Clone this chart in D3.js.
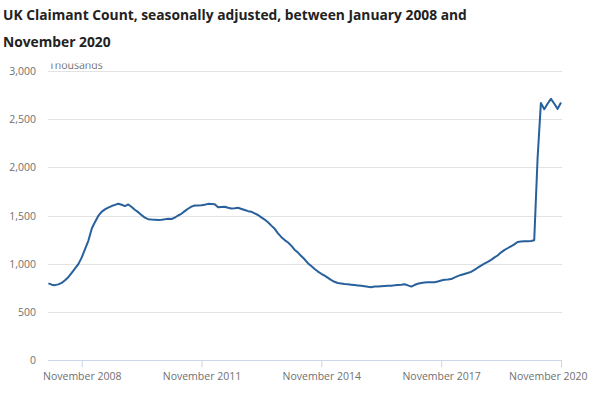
<!DOCTYPE html>
<html>
<head>
<meta charset="utf-8">
<script src="https://cdn.jsdelivr.net/npm/d3@7"></script>
<style>
  html, body { margin: 0; padding: 0; background: #fff; }
  svg { display: block; font-family: "Open Sans", sans-serif; }
</style>
</head>
<body>
<div id="chart"></div>
<script>
// claimant count, thousands, monthly from January 2008 to November 2020
const firstMonth = '2008-01';
const claimants = [
  795, 782, 777, 785, 800, 828, 860, 905, 950, 995, 1065, 1150,   // 2008
  1240, 1365, 1430, 1495, 1538, 1563, 1582, 1598, 1610, 1622, 1612, 1598, // 2009
  1615, 1588, 1560, 1535, 1505, 1478, 1462, 1458, 1457, 1454, 1456, 1460, // 2010
  1466, 1464, 1478, 1500, 1518, 1545, 1570, 1592, 1604, 1605, 1607, 1612, // 2011
  1621, 1620, 1617, 1585, 1588, 1590, 1580, 1573, 1575, 1580, 1568, 1557, // 2012
  1545, 1538, 1522, 1505, 1480, 1458, 1430, 1395, 1362, 1315, 1275, 1245, // 2013
  1220, 1185, 1145, 1115, 1080, 1045, 1005, 975, 945, 918, 895, 875,      // 2014
  852, 830, 812, 800, 795, 790, 786, 782, 778, 774, 770, 765,             // 2015
  760, 756, 762, 762, 766, 768, 770, 772, 775, 779, 782, 786,             // 2016
  775, 762, 778, 792, 800, 805, 806, 807, 808, 815, 825, 832,             // 2017
  835, 840, 855, 870, 883, 893, 903, 915, 935, 958, 980, 1000,            // 2018
  1018, 1040, 1062, 1085, 1115, 1140, 1160, 1180, 1200, 1225, 1230, 1232, // 2019
  1233, 1236, 1243, 2100, 2667, 2604, 2660, 2711, 2660, 2607, 2673        // 2020
];
const yTicks = [0, 500, 1000, 1500, 2000, 2500, 3000];
const xTickMonths = ['2008-11', '2011-11', '2014-11', '2017-11', '2020-11'];
const xTickLabels = ['November 2008', 'November 2011', 'November 2014', 'November 2017', 'November 2020'];

const width = 600, height = 396;
const margin = { top: 71, right: 39, bottom: 36, left: 48 };

const parseMonth = d3.timeParse('%Y-%m');
const start = parseMonth(firstMonth);
const data = claimants.map((v, i) => ({ date: d3.timeMonth.offset(start, i), value: v }));

const svg = d3.select('#chart')
  .append('svg')
  .attr('width', width)
  .attr('height', height);

// title
svg.append('text')
  .attr('x', 3).attr('y', 20)
  .style('font-size', '13.8px').style('font-weight', 'bold').attr('fill', '#222')
  .text('UK Claimant Count, seasonally adjusted, between January 2008 and');
svg.append('text')
  .attr('x', 3).attr('y', 47)
  .style('font-size', '13.8px').style('font-weight', 'bold').attr('fill', '#222')
  .text('November 2020');

const x = d3.scaleTime()
  .domain([start, parseMonth('2020-11')])
  .range([margin.left + 0.4, 561]);

const y = d3.scaleLinear()
  .domain([0, 3000])
  .range([height - margin.bottom, margin.top]);

// gridlines
svg.append('g')
  .selectAll('line')
  .data(yTicks.filter(d => d > 0))
  .enter()
  .append('line')
  .attr('x1', margin.left).attr('x2', width - margin.right + 1)
  .attr('y1', d => Math.round(y(d)) + 0.5).attr('y2', d => Math.round(y(d)) + 0.5)
  .attr('stroke', '#e3e3e3');

// Y-axis labels
svg.append('g')
  .selectAll('text')
  .data(yTicks)
  .enter()
  .append('text')
  .attr('x', 36)
  .attr('y', d => y(d) + 4)
  .attr('text-anchor', 'end')
  .style('font-size', '10.5px')
  .attr('fill', '#707070')
  .text(d => d3.format(',')(d));

// units label, top sliced off as in the original
svg.append('clipPath').attr('id', 'unit-clip')
  .append('rect').attr('x', 40).attr('y', 63.5).attr('width', 100).attr('height', 20);
svg.append('text')
  .attr('x', 49).attr('y', 69)
  .attr('clip-path', 'url(#unit-clip)')
  .style('font-size', '10.5px')
  .attr('fill', '#707070')
  .text('Thousands');

// X-axis
const xAxis = svg.append('g')
  .attr('transform', `translate(0,${Math.round(y(0)) + 0.5})`)
  .call(d3.axisBottom(x)
    .tickValues(xTickMonths.map(parseMonth))
    .tickSize(7)
    .tickSizeOuter(0)
    .tickFormat((d, i) => xTickLabels[i]));
xAxis.select('.domain')
  .attr('stroke', '#ccd6eb')
  .attr('d', `M${margin.left},0H${width - margin.right + 1}`);
xAxis.selectAll('line').attr('stroke', '#ccd6eb');
xAxis.selectAll('text')
  .attr('y', 12)
  .style('font-size', '10.5px')
  .style('font-family', '"Open Sans", sans-serif')
  .attr('fill', '#707070');
xAxis.selectAll('.tick:last-of-type text')
  .attr('text-anchor', 'end')
  .attr('dx', 26);

// line
const line = d3.line()
  .x(d => x(d.date))
  .y(d => y(d.value));

svg.append('path')
  .datum(data)
  .attr('fill', 'none')
  .attr('stroke', '#27609a')
  .attr('stroke-width', 2)
  .attr('stroke-linejoin', 'round')
  .attr('d', line);
</script>
</body>
</html>
